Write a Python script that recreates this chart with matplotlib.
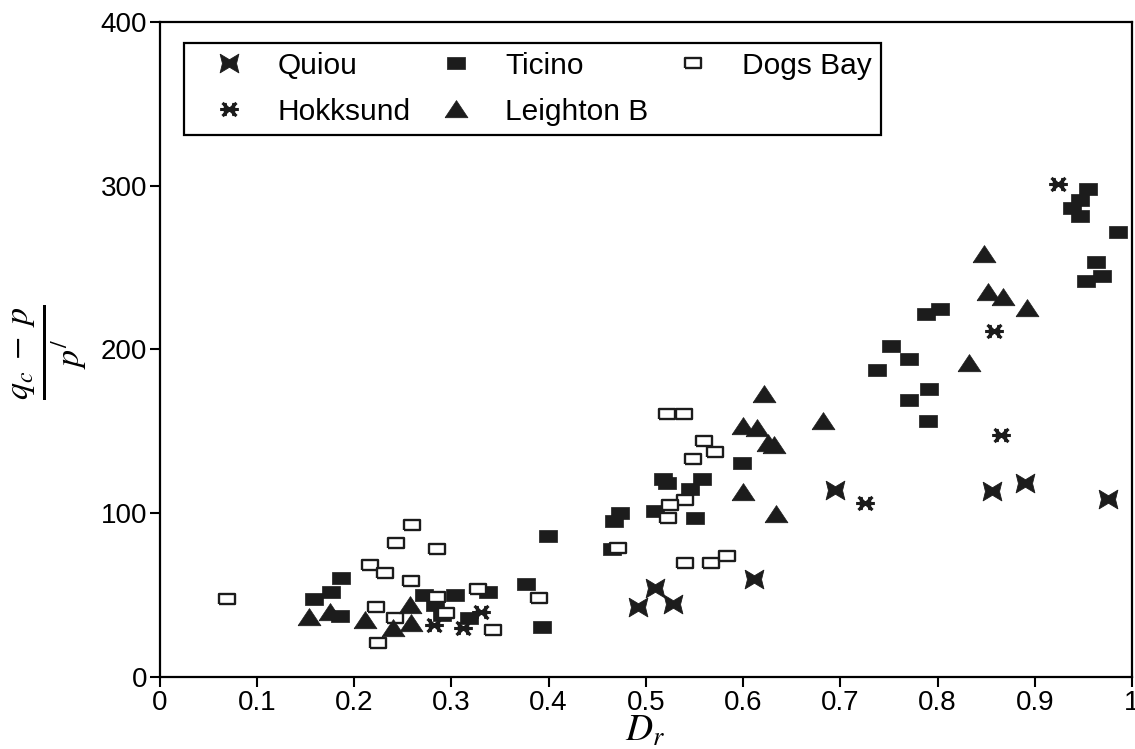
import matplotlib
matplotlib.use("Agg")
import matplotlib.pyplot as plt
from matplotlib.path import Path

# Relative density D_r against normalised cone resistance (q_c - p)/p'
quiou_dr = [0.492, 0.509, 0.528, 0.611, 0.695, 0.856, 0.890, 0.975]
quiou_q = [43.0, 54.5, 44.5, 59.7, 114.2, 113.6, 118.7, 108.5]

hokksund_dr = [0.282, 0.312, 0.331, 0.725, 0.858, 0.865, 0.924]
hokksund_q = [31.8, 29.7, 39.9, 106.5, 211.3, 147.8, 301.0]

ticino_dr = [0.159, 0.176, 0.187, 0.186, 0.272, 0.283, 0.290, 0.304, 0.318,
             0.338, 0.377, 0.393, 0.399,
             0.465, 0.467, 0.474, 0.509, 0.518, 0.522, 0.546, 0.558, 0.551,
             0.599,
             0.738, 0.752, 0.771, 0.771, 0.791, 0.790, 0.788, 0.803,
             0.938, 0.947, 0.955, 0.947, 0.986, 0.963, 0.969, 0.953]
ticino_q = [47.4, 52.1, 60.7, 37.3, 50.0, 44.0, 38.0, 50.0, 35.8,
            51.7, 56.6, 30.7, 86.1,
            78.0, 95.5, 100.0, 101.6, 120.7, 118.3, 114.6, 120.7, 96.9,
            130.9,
            187.5, 202.1, 194.2, 169.4, 176.1, 156.5, 221.7, 224.5,
            286.2, 291.3, 297.8, 281.5, 271.6, 253.6, 244.9, 242.0]

leighton_dr = [0.154, 0.175, 0.211, 0.240, 0.258, 0.259,
               0.600, 0.600, 0.614, 0.622, 0.626, 0.632, 0.634, 0.682,
               0.832, 0.848, 0.852, 0.867, 0.892]
leighton_q = [36.8, 39.9, 34.8, 29.7, 44.0, 32.8,
              113.2, 153.3, 151.9, 172.8, 143.1, 141.7, 99.5, 156.5,
              191.6, 258.1, 235.3, 232.3, 225.2]

dogs_dr = [0.069, 0.216, 0.223, 0.225, 0.232, 0.242, 0.243, 0.259, 0.260,
           0.285, 0.285, 0.295, 0.328, 0.343, 0.390, 0.471,
           0.522, 0.539, 0.560, 0.571, 0.549, 0.540, 0.525, 0.523,
           0.540, 0.567, 0.584]
dogs_q = [47.4, 68.4, 42.9, 21.0, 63.7, 36.0, 81.6, 58.8, 93.0,
          78.2, 49.0, 38.9, 53.5, 28.7, 48.0, 79.0,
          160.4, 160.4, 144.3, 137.6, 132.9, 108.1, 105.0, 96.9,
          69.4, 69.4, 74.1]

x_ticks = [0, 0.1, 0.2, 0.3, 0.4, 0.5, 0.6, 0.7, 0.8, 0.9, 1.0]
x_tick_labels = ["0", "0.1", "0.2", "0.3", "0.4", "0.5", "0.6", "0.7", "0.8", "0.9", "1"]
y_ticks = [0, 100, 200, 300, 400]

plt.rcParams["font.family"] = ["Liberation Sans", "DejaVu Sans"]
plt.rcParams["mathtext.fontset"] = "stix"

INK = "#1c1c1c"

# marker shapes
rect_marker = [(-1, -0.7), (1, -0.7), (1, 0.7), (-1, 0.7), (-1, -0.7)]
tri_marker = [(-1, -0.72), (1, -0.72), (0, 0.78), (-1, -0.72)]
bowtie_marker = [(-1, 1), (0, 0.4), (1, 1), (0.75, 0), (1, -1), (0, -0.4),
                 (-1, -1), (-0.75, 0), (-1, 1)]
star_verts = [(-1, 0), (1, 0),
              (-0.75, 0.7), (0.75, -0.7),
              (-0.75, -0.7), (0.75, 0.7),
              (-0.45, 0.7), (-0.45, -0.7),
              (0.45, 0.7), (0.45, -0.7)]
star_codes = [Path.MOVETO, Path.LINETO] * 5
star_marker = Path(star_verts, star_codes)

fig = plt.figure(figsize=(11.35, 7.49), dpi=100)
ax = fig.add_axes([159.5 / 1135, 1 - 677 / 749, 972.5 / 1135, 655 / 749])

h_quiou, = ax.plot(quiou_dr, quiou_q, ls="none", marker=bowtie_marker, ms=13.5,
                   mfc=INK, mec=INK, mew=0.6, label="Quiou", zorder=3)
h_hok, = ax.plot(hokksund_dr, hokksund_q, ls="none", marker=star_marker, ms=13.5,
                 mfc="none", mec=INK, mew=2.2, label="Hokksund", zorder=3)
h_tic, = ax.plot(ticino_dr, ticino_q, ls="none", marker=rect_marker, ms=12.4,
                 mfc=INK, mec=INK, mew=0.5, label="Ticino", zorder=3)
h_dog, = ax.plot(dogs_dr, dogs_q, ls="none", marker=rect_marker, ms=11.2,
                 mfc="white", mec=INK, mew=1.7, label="Dogs Bay", zorder=4)
h_lei, = ax.plot(leighton_dr, leighton_q, ls="none", marker=tri_marker, ms=16.5,
                 mfc=INK, mec=INK, mew=0.5, label="Leighton B", zorder=5)

ax.set_xlim(0, 1)
ax.set_ylim(0, 400)
ax.set_xticks(x_ticks)
ax.set_xticklabels(x_tick_labels)
ax.set_yticks(y_ticks)
ax.tick_params(direction="out", length=7, width=1.5, labelsize=20, pad=2,
               colors="black")
for s in ax.spines.values():
    s.set_linewidth(1.6)

leg = ax.legend(handles=[h_quiou, h_hok, h_tic, h_lei, h_dog], ncol=3,
                loc="upper left", bbox_to_anchor=(0.025, 0.968),
                borderaxespad=0, fontsize=21.5, frameon=True, fancybox=False,
                edgecolor="black", framealpha=1, borderpad=0.3,
                handlelength=2.4, handletextpad=0.45, columnspacing=0.3,
                labelspacing=0.6)
leg.get_frame().set_linewidth(1.6)

fig.text(50 / 1135, 1 - 352 / 749, r"$\frac{q_c\;-\;p}{p^{/}}$",
         rotation=90, ha="center", va="center", fontsize=35)
fig.text(645 / 1135, 1 - 731 / 749, r"$D_r$", ha="center", va="center",
         fontsize=27)

fig.savefig("out.png", dpi=100)
